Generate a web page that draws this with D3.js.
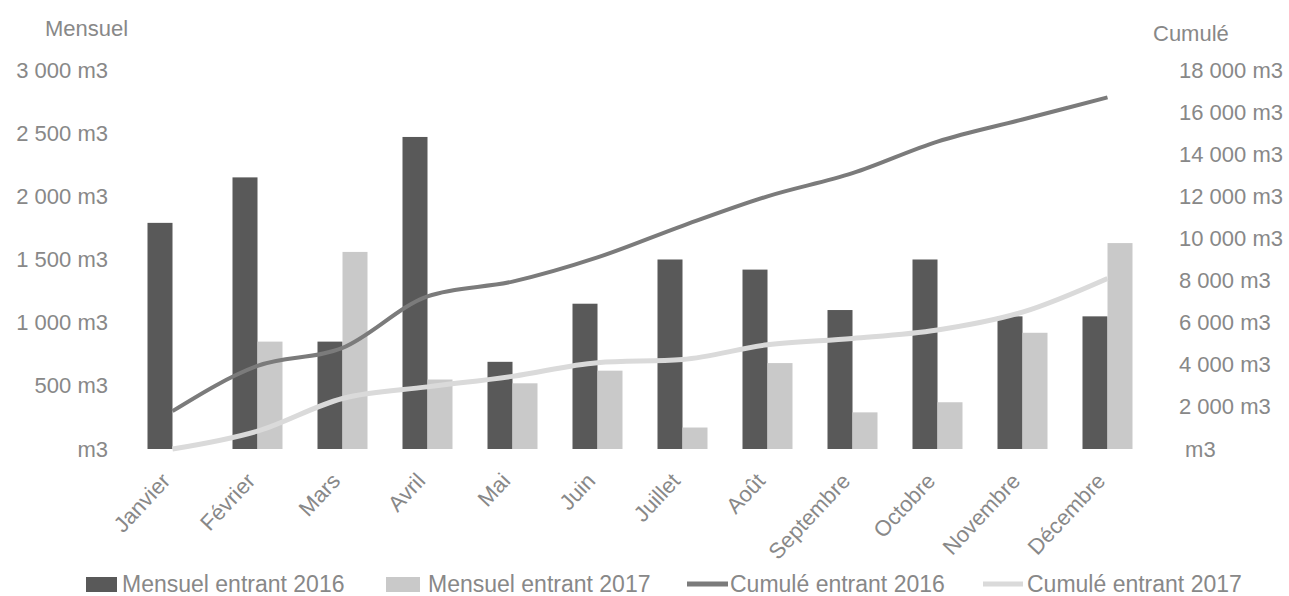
<!DOCTYPE html>
<html>
<head>
<meta charset="utf-8">
<script src="https://cdn.jsdelivr.net/npm/d3@7"></script>
<style>
  body { margin: 0; background: #fff; }
  text { font-family: "Liberation Sans", Arial, sans-serif; fill: #888; }
</style>
</head>
<body>
<div id="d3-container"></div>
<script>
const months = ["Janvier", "Février", "Mars", "Avril", "Mai", "Juin", "Juillet", "Août", "Septembre", "Octobre", "Novembre", "Décembre"];
const mensuel2016 = [1790, 2150, 850, 2470, 690, 1150, 1500, 1420, 1100, 1500, 1050, 1050];
const mensuel2017 = [0, 850, 1560, 550, 520, 620, 170, 680, 290, 370, 920, 1630];
const cumule2016 = [1800, 3950, 4800, 7250, 7950, 9100, 10600, 12000, 13100, 14600, 15650, 16700];
const cumule2017 = [0, 850, 2400, 2950, 3450, 4100, 4250, 4950, 5250, 5650, 6500, 8100];
const leftTicks = [0, 500, 1000, 1500, 2000, 2500, 3000];
const rightTicks = [0, 2000, 4000, 6000, 8000, 10000, 12000, 14000, 16000, 18000];

const width = 1289;
const height = 596;
const margin = { top: 70, bottom: 147, left: 130, right: 139 };

const fr = d3.formatLocale({ decimal: ",", thousands: " ", grouping: [3], currency: ["", ""] });
const fmt = d => d === 0 ? " m3" : fr.format(",")(d) + " m3";

const svg = d3.select('#d3-container')
  .append('svg')
  .attr('width', width)
  .attr('height', height);

const x = d3.scaleBand()
  .domain(months)
  .range([margin.left, width - margin.right])
  .padding(0);

const xs = d3.scaleBand()
  .domain(["2016", "2017"])
  .range([17.5, x.bandwidth() - 17.5]);

const y = d3.scaleLinear()
  .domain([0, 3000])
  .range([height - margin.bottom, margin.top]);

const y2 = d3.scaleLinear()
  .domain([0, 18000])
  .range([height - margin.bottom, margin.top]);

// axes
svg.append('g')
  .attr('transform', `translate(108, 0)`)
  .call(d3.axisLeft(y).tickValues(leftTicks).tickFormat(d => d === 0 ? "m3" : fmt(d)).tickSize(0).tickPadding(0))
  .call(g => g.select('.domain').remove())
  .selectAll('text')
    .attr('font-size', '22px')
    .attr('fill', '#888');

svg.append('g')
  .attr('transform', `translate(1179, 0)`)
  .call(d3.axisRight(y2).tickValues(rightTicks).tickFormat(fmt).tickSize(0).tickPadding(0))
  .call(g => g.select('.domain').remove())
  .selectAll('text')
    .attr('font-size', '22px')
    .attr('fill', '#888')
    .style('white-space', 'pre');

svg.append('text').attr('x', 45).attr('y', 36).attr('font-size', '22px').text('Mensuel');
svg.append('text').attr('x', 1153).attr('y', 41).attr('font-size', '22px').text('Cumulé');

// bars
svg.append('g')
  .attr('fill', '#595959')
  .selectAll('rect')
  .data(mensuel2016)
  .join('rect')
    .attr('x', (d, i) => x(months[i]) + xs("2016"))
    .attr('y', d => y(d))
    .attr('width', xs.bandwidth())
    .attr('height', d => y(0) - y(d));

svg.append('g')
  .attr('fill', '#c9c9c9')
  .selectAll('rect')
  .data(mensuel2017)
  .join('rect')
    .attr('x', (d, i) => x(months[i]) + xs("2017"))
    .attr('y', d => y(d))
    .attr('width', xs.bandwidth())
    .attr('height', d => y(0) - y(d));

// cumulative lines
const line = d3.line()
  .x((d, i) => x(months[i]) + x.bandwidth() / 2)
  .y(d => y2(d))
  .curve(d3.curveMonotoneX);

svg.append('path')
  .datum(cumule2016)
  .attr('fill', 'none')
  .attr('stroke', '#7b7b7b')
  .attr('stroke-width', 4)
  .attr('d', line);

svg.append('path')
  .datum(cumule2017)
  .attr('fill', 'none')
  .attr('stroke', '#dadada')
  .attr('stroke-width', 5)
  .attr('d', line);

// month labels
svg.append('g')
  .selectAll('text')
  .data(months)
  .join('text')
    .attr('transform', d => `translate(${x(d) + x.bandwidth() / 2 - 1}, 482) rotate(-47)`)
    .attr('text-anchor', 'end')
    .attr('font-size', '22px')
    .text(d => d);

// legend
const legend = svg.append('g').attr('font-size', '23px');
legend.append('rect').attr('x', 86).attr('y', 577).attr('width', 31).attr('height', 15).attr('fill', '#595959');
legend.append('text').attr('x', 122).attr('y', 592).text('Mensuel entrant 2016');
legend.append('rect').attr('x', 386).attr('y', 577).attr('width', 34).attr('height', 15).attr('fill', '#c9c9c9');
legend.append('text').attr('x', 428).attr('y', 592).text('Mensuel entrant 2017');
legend.append('line').attr('x1', 687).attr('x2', 728).attr('y1', 584).attr('y2', 584).attr('stroke', '#7b7b7b').attr('stroke-width', 5);
legend.append('text').attr('x', 730).attr('y', 592).text('Cumulé entrant 2016');
legend.append('line').attr('x1', 983).attr('x2', 1023).attr('y1', 584).attr('y2', 584).attr('stroke', '#dadada').attr('stroke-width', 5);
legend.append('text').attr('x', 1027).attr('y', 592).text('Cumulé entrant 2017');
</script>
</body>
</html>
